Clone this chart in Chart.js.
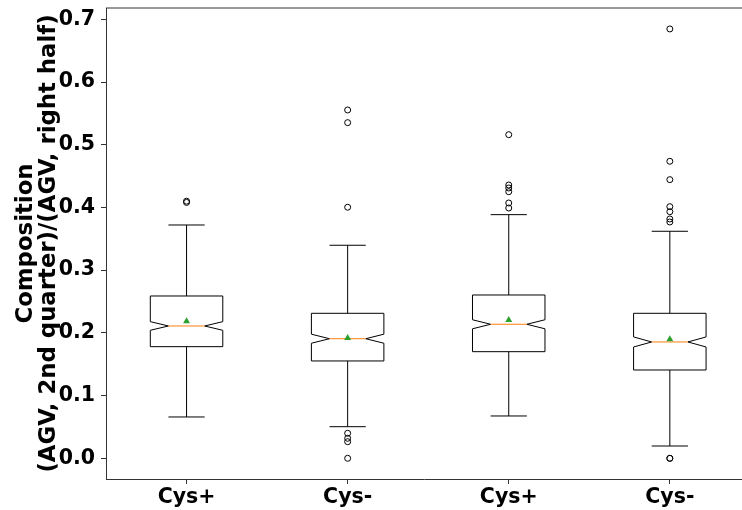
<!DOCTYPE html>
<html>
<head>
<meta charset="utf-8">
<script src="https://cdn.jsdelivr.net/npm/chart.js@4/dist/chart.umd.min.js"></script>
<style>
  html, body { margin: 0; padding: 0; background: #fff; overflow: hidden; }
  canvas { display: block; }
</style>
</head>
<body>
<canvas id="chart" width="742" height="510"></canvas>
<script>
// Groups along the x axis
const categories = ['Cys+', 'Cys-', 'Cys+', 'Cys-'];

// Box statistics per group
const q1 = [0.1780, 0.1552, 0.1700, 0.1408];
const q3 = [0.2588, 0.2312, 0.2604, 0.2312];
const medians = [0.2110, 0.1907, 0.2137, 0.1855];
const notchLow = [0.2041, 0.1835, 0.2065, 0.1775];
const notchHigh = [0.2179, 0.1979, 0.2209, 0.1935];
const whiskerLow = [0.0659, 0.0504, 0.0675, 0.0196];
const whiskerHigh = [0.3720, 0.3397, 0.3885, 0.3620];
const means = [0.2185, 0.1918, 0.2205, 0.1900];

// Points beyond the whiskers
const outliers = [
  [0.408, 0.410],
  [0.5554, 0.5352, 0.4003, 0.0399, 0.0319, 0.0265, 0.0],
  [0.516, 0.4358, 0.4310, 0.4251, 0.4071, 0.3991],
  [0.6846, 0.4736, 0.4443, 0.4012, 0.3932, 0.3816, 0.3768, 0.0, 0.0]
];

// Y axis tick values
const yTicks = [0.0, 0.1, 0.2, 0.3, 0.4, 0.5, 0.6, 0.7];

const BOX_WIDTH = 0.45;   // in x-axis units
const CAP_WIDTH = 0.225;
const FONT = 'DejaVu Sans';

const meanPoints = means.map((m, i) => ({ x: i + 1, y: m }));
const outlierPoints = [];
outliers.forEach((arr, i) => arr.forEach(v => outlierPoints.push({ x: i + 1, y: v })));

// Draws notched boxes, whiskers and medians from the box statistics
const notchedBoxPlugin = {
  id: 'notchedBoxes',
  beforeDatasetsDraw(chart) {
    const { ctx, scales: { x, y } } = chart;
    ctx.save();
    ctx.lineWidth = 1;
    for (let i = 0; i < categories.length; i++) {
      const pos = i + 1;
      const cx = x.getPixelForValue(pos);
      const left = x.getPixelForValue(pos - BOX_WIDTH / 2);
      const right = x.getPixelForValue(pos + BOX_WIDTH / 2);
      const wl = x.getPixelForValue(pos - BOX_WIDTH / 4);
      const wr = x.getPixelForValue(pos + BOX_WIDTH / 4);
      const capL = x.getPixelForValue(pos - CAP_WIDTH / 2);
      const capR = x.getPixelForValue(pos + CAP_WIDTH / 2);
      const yq1 = y.getPixelForValue(q1[i]);
      const yq3 = y.getPixelForValue(q3[i]);
      const ymed = y.getPixelForValue(medians[i]);
      const ynl = y.getPixelForValue(notchLow[i]);
      const ynh = y.getPixelForValue(notchHigh[i]);
      const ywl = y.getPixelForValue(whiskerLow[i]);
      const ywh = y.getPixelForValue(whiskerHigh[i]);

      ctx.strokeStyle = '#000';
      // notched box outline
      ctx.beginPath();
      ctx.moveTo(left, yq1);
      ctx.lineTo(left, ynl);
      ctx.lineTo(wl, ymed);
      ctx.lineTo(left, ynh);
      ctx.lineTo(left, yq3);
      ctx.lineTo(right, yq3);
      ctx.lineTo(right, ynh);
      ctx.lineTo(wr, ymed);
      ctx.lineTo(right, ynl);
      ctx.lineTo(right, yq1);
      ctx.closePath();
      ctx.stroke();

      // whiskers and caps
      ctx.beginPath();
      ctx.moveTo(cx, yq1); ctx.lineTo(cx, ywl);
      ctx.moveTo(cx, yq3); ctx.lineTo(cx, ywh);
      ctx.moveTo(capL, ywl); ctx.lineTo(capR, ywl);
      ctx.moveTo(capL, ywh); ctx.lineTo(capR, ywh);
      ctx.stroke();

      // median
      ctx.strokeStyle = '#ff7f0e';
      ctx.beginPath();
      ctx.moveTo(wl, ymed); ctx.lineTo(wr, ymed);
      ctx.stroke();
    }
    ctx.restore();
  },
  afterDraw(chart) {
    // top frame line
    const { ctx, chartArea: a } = chart;
    ctx.save();
    ctx.strokeStyle = '#333';
    ctx.lineWidth = 1;
    ctx.beginPath();
    ctx.moveTo(a.left, a.top); ctx.lineTo(chart.width, a.top);
    ctx.stroke();
    ctx.restore();
  }
};

new Chart(document.getElementById('chart'), {
  type: 'scatter',
  data: {
    datasets: [
      {
        label: 'mean',
        data: meanPoints,
        pointStyle: 'triangle',
        pointRadius: 4,
        pointBackgroundColor: '#2ca02c',
        pointBorderColor: '#2ca02c',
        pointBorderWidth: 0
      },
      {
        label: 'outliers',
        data: outlierPoints,
        pointStyle: 'circle',
        pointRadius: 3,
        pointBackgroundColor: 'rgba(0,0,0,0)',
        pointBorderColor: '#000',
        pointBorderWidth: 1
      }
    ]
  },
  options: {
    responsive: false,
    animation: false,
    devicePixelRatio: 1,
    layout: { autoPadding: false, padding: { top: 8, right: 0, left: 0, bottom: 0 } },
    plugins: { legend: { display: false }, tooltip: { enabled: false } },
    scales: {
      x: {
        type: 'linear',
        min: 0.5,
        max: 4.448,
        afterBuildTicks(scale) { scale.ticks = categories.map((c, i) => ({ value: i + 1 })); },
        afterFit(scale) { scale.height = 31; scale.paddingLeft = 0; scale.paddingRight = 0; },
        grid: { drawOnChartArea: false, drawTicks: true, tickLength: 5, color: '#333' },
        border: { display: true, color: '#333', width: 1 },
        ticks: {
          padding: 1,
          color: '#000',
          font: { family: FONT, weight: 'bold', size: 20.5 },
          callback: (v) => categories[Math.round(v) - 1] || ''
        }
      },
      y: {
        type: 'linear',
        min: -0.033,
        max: 0.718,
        afterBuildTicks(scale) { scale.ticks = yTicks.map(v => ({ value: v })); },
        afterFit(scale) { scale.width = 106; scale.paddingTop = 0; scale.paddingBottom = 0; },
        grid: { drawOnChartArea: false, drawTicks: true, tickLength: 5, color: '#333' },
        border: { display: true, color: '#333', width: 1 },
        ticks: {
          padding: 6,
          color: '#000',
          font: { family: FONT, weight: 'bold', size: 20.5 },
          callback: (v) => Number(v).toFixed(1)
        },
        title: {
          display: true,
          text: ['Composition', '(AGV, 2nd quarter)/(AGV, right half)'],
          color: '#000',
          font: { family: FONT, weight: 'bold', size: 22.8, lineHeight: 1.03 },
          padding: { top: 14, bottom: 0 }
        }
      }
    }
  },
  plugins: [notchedBoxPlugin]
});
</script>
</body>
</html>
